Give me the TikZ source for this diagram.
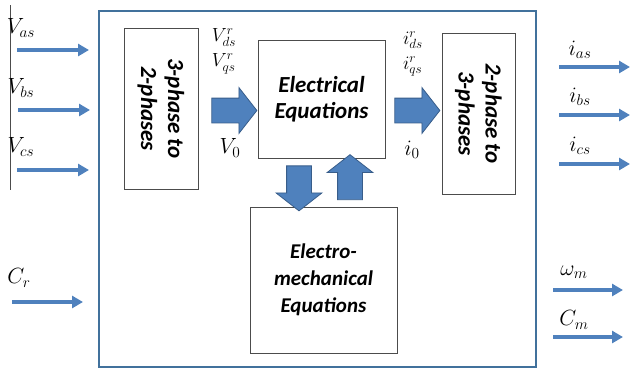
\documentclass[tikz,border=0pt]{standalone}
\usepackage{fix-cm}
\usepackage{fontspec}
\setmainfont{Carlito}
\usetikzlibrary{shapes.arrows,arrows.meta}
\definecolor{msblue}{RGB}{79,129,189}
\definecolor{msdark}{RGB}{56,93,138}
\definecolor{frameblue}{RGB}{65,113,156}

\begin{document}
\begin{tikzpicture}[x=1pt, y=-1pt,
    block/.style={rectangle, draw=black!70, line width=0.9pt, align=center, inner sep=0pt, font=\fontsize{21}{27}\selectfont\bfseries\itshape},
    sig/.style={-{Triangle[length=11pt,width=12pt]}, line width=3.6pt, draw=msblue},
    bigarrow/.style={single arrow, draw=msdark, fill=msblue, line width=0.8pt, inner xsep=0pt, inner ysep=12pt, minimum width=34pt, minimum height=45pt, single arrow head extend=10.5pt, single arrow tip angle=104},
    lbl/.style={inner sep=0pt, font=\fontsize{22}{22}\selectfont},
    stacklbl/.style={inner sep=0pt, align=left, font=\fontsize{19}{25}\selectfont}
]
\useasboundingbox (0,0) rectangle (630,368);

% outer frame and input rail
\draw[frameblue, line width=2pt] (99,11) rectangle (536,367);
\coordinate (railtop) at (10,5);
\coordinate (railbot) at (10,190);
\draw[black!70, line width=0.9pt] (railtop) -- (railbot);

% blocks
\node[block, rotate=-90, minimum width=161pt, minimum height=74pt, font=\fontsize{23}{27}\selectfont\bfseries\itshape] (abc2dq) at (161,108.5) {3-phase to\\2-phases};
\node[block, minimum width=127pt, minimum height=118pt, font=\fontsize{23}{26}\selectfont\bfseries\itshape] (elec) at (321.5,99) {Electrical\\Equations};
\node[block, rotate=-90, minimum width=161pt, minimum height=73pt, font=\fontsize{23}{27}\selectfont\bfseries\itshape] (dq2abc) at (478.5,113.5) {2-phase to\\3-phases};
\node[block, minimum width=147pt, minimum height=146pt] (mech) at (323.5,280) {Electro-\\mechanical\\Equations};

% block arrows
\node[bigarrow] (toelec) at (229.5,110.5) {};
\node[bigarrow] (tocurr) at (412.5,110.5) {};
\node[bigarrow, rotate=-90] (down) at (299,183.5) {};
\node[bigarrow, rotate=90] (up) at (350,182) {};

% labels
\node[lbl] (vas) at (21,28) {$V_{as}$};
\node[lbl] (vbs) at (21,88) {$V_{bs}$};
\node[lbl] (vcs) at (21,147) {$V_{cs}$};
\node[lbl] (cr) at (19,278) {$C_r$};
\node[stacklbl] (vdq) at (224,51) {$V_{ds}^{r}$\\$V_{qs}^{r}$};
\node[lbl] (vzero) at (230,148) {$V_0$};
\node[stacklbl] (idq) at (413,54) {$i_{ds}^{r}$\\$i_{qs}^{r}$};
\node[lbl] (izero) at (412,150) {$i_0$};
\node[lbl] (ias) at (580,50) {$i_{as}$};
\node[lbl] (ibs) at (580,97) {$i_{bs}$};
\node[lbl] (ics) at (580,146) {$i_{cs}$};
\node[lbl] (wm) at (574,272) {$\omega_m$};
\node[lbl] (cm) at (574,320) {$C_m$};

% signal arrows
\coordinate (vasin) at (17,50);   \coordinate (vasout) at (89,50);
\coordinate (vbsin) at (18,110);  \coordinate (vbsout) at (90,110);
\coordinate (vcsin) at (17,170);  \coordinate (vcsout) at (89,170);
\coordinate (crin) at (12,302);   \coordinate (crout) at (83,302);
\coordinate (iasin) at (559,67);  \coordinate (iasout) at (630,67);
\coordinate (ibsin) at (559,115); \coordinate (ibsout) at (630,115);
\coordinate (icsin) at (559,164); \coordinate (icsout) at (630,164);
\coordinate (wmin) at (553,290);  \coordinate (wmout) at (623,290);
\coordinate (cmin) at (553,337);  \coordinate (cmout) at (623,337);

\draw[sig] (vasin) -- (vasout);
\draw[sig] (vbsin) -- (vbsout);
\draw[sig] (vcsin) -- (vcsout);
\draw[sig] (crin) -- (crout);
\draw[sig] (iasin) -- (iasout);
\draw[sig] (ibsin) -- (ibsout);
\draw[sig] (icsin) -- (icsout);
\draw[sig] (wmin) -- (wmout);
\draw[sig] (cmin) -- (cmout);
\end{tikzpicture}
\end{document}
